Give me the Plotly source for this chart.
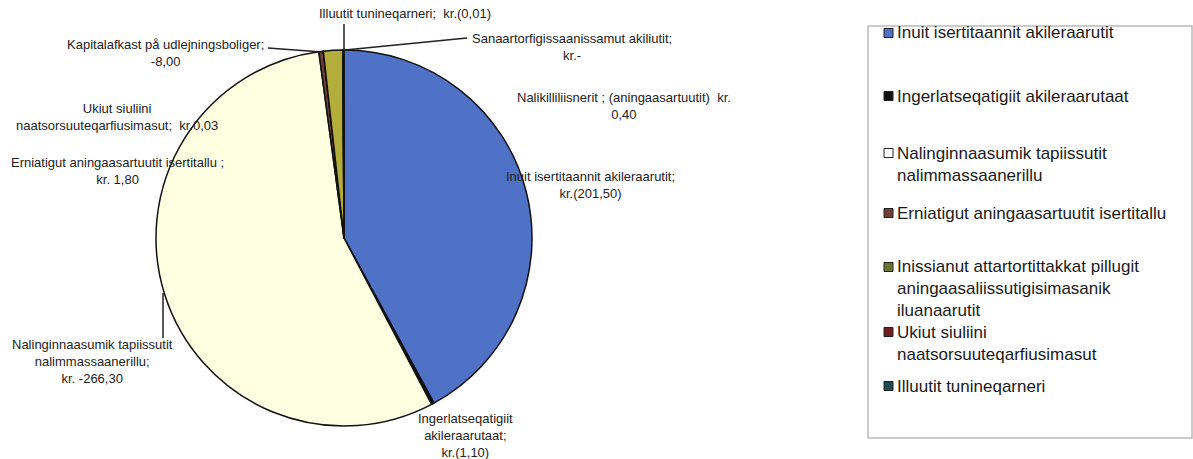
import plotly.graph_objects as go

# ---- data ----
slice_labels = [
    "Inuit isertitaannit akileraarutit",
    "Ingerlatseqatigiit akileraarutaat",
    "Nalinginnaasumik tapiissutit nalimmassaanerillu",
    "Erniatigut aningaasartuutit isertitallu",
    "Ukiut siuliini naatsorsuuteqarfiusimasut",
    "Kapitalafkast på udlejningsboliger",
    "Illuutit tunineqarneri",
    "Sanaartorfigissaanissamut akiliutit",
    "Nalikilliliisnerit (aningaasartuutit)",
]
slice_values = [201.50, 1.10, 266.30, 1.80, 0.03, 8.00, 0.01, 0.00, 0.40]
slice_colors = ["#4f72c6", "#111111", "#ffffe2", "#6e4038", "#6e2020",
                "#b3ad3c", "#1e4a50", "#999999", "#777777"]

data_label_texts = [
    "Illuutit tunineqarneri;  kr.(0,01)",
    "Sanaartorfigissaanissamut akiliutit;<br>kr.-",
    "Nalikilliliisnerit ; (aningaasartuutit)  kr.<br>0,40",
    "Inuit isertitaannit akileraarutit;<br>kr.(201,50)",
    "Ingerlatseqatigiit<br>akileraarutaat;<br>kr.(1,10)",
    "Nalinginnaasumik tapiissutit<br>nalimmassaanerillu;<br>kr. -266,30",
    "Erniatigut aningaasartuutit isertitallu ;<br>kr. 1,80",
    "Ukiut siuliini<br>naatsorsuuteqarfiusimasut;  kr.0,03",
    "Kapitalafkast på udlejningsboliger;<br>-8,00",
]

legend_texts = [
    "Inuit isertitaannit akileraarutit",
    "Ingerlatseqatigiit akileraarutaat",
    "Nalinginnaasumik tapiissutit<br>nalimmassaanerillu",
    "Erniatigut aningaasartuutit isertitallu",
    "Inissianut attartortittakkat pillugit<br>aningaasaliissutigisimasanik<br>iluanaarutit",
    "Ukiut siuliini<br>naatsorsuuteqarfiusimasut",
    "Illuutit tunineqarneri",
]
legend_colors = ["#4f72c6", "#111111", "#ffffff", "#6e4038", "#6b7530", "#6e2020", "#1e4a50"]

# ---- layout helpers ----
W, H = 1193, 459


def px(x):
    return x / W


def py(y):
    return 1 - y / H


cx, cy, r = 344, 238, 188

fig = go.Figure()
fig.add_trace(go.Pie(
    labels=slice_labels,
    values=slice_values,
    sort=False,
    direction="clockwise",
    rotation=0,
    textinfo="none",
    hoverinfo="label+value",
    showlegend=False,
    marker=dict(colors=slice_colors, line=dict(color="#111111", width=1.5)),
    domain=dict(x=[px(cx - r), px(cx + r)], y=[py(cy + r), py(cy - r)]),
))

label_pos = [(405, 14), (572, 47), (624, 106), (590, 185), (465, 435),
             (92, 361), (117, 171), (117, 117), (165, 53)]
annotations = []
for txt, (x, y) in zip(data_label_texts, label_pos):
    annotations.append(dict(
        x=px(x), y=py(y), xref="paper", yref="paper", text=txt,
        showarrow=False, xanchor="center", yanchor="middle", align="center",
        font=dict(family="Liberation Sans, Arial", size=13, color="#222222"),
    ))

shapes = []
# leader lines
for (x0, y0, x1, y1) in [(344, 24, 344, 56), (345, 50, 467, 38),
                         (268, 48, 322, 52), (163, 293, 163, 338)]:
    shapes.append(dict(type="line", xref="paper", yref="paper",
                       x0=px(x0), y0=py(y0), x1=px(x1), y1=py(y1),
                       line=dict(color="#222222", width=1.5)))

# custom legend box
shapes.append(dict(type="rect", xref="paper", yref="paper",
                   x0=px(868), y0=py(438), x1=px(1192), y1=py(26),
                   line=dict(color="#bbbbbb", width=1.5), fillcolor="rgba(0,0,0,0)"))

legend_y = [33, 96, 164, 213, 288, 343, 386]
legend_sq_y = [33, 96, 153, 213, 267, 332, 386]
for txt, col, ty, sy in zip(legend_texts, legend_colors, legend_y, legend_sq_y):
    shapes.append(dict(type="rect", xref="paper", yref="paper",
                       x0=px(884), y0=py(sy + 4.5), x1=px(893), y1=py(sy - 4.5),
                       fillcolor=col, line=dict(color="#222222", width=1)))
    annotations.append(dict(
        x=px(895), y=py(ty), xref="paper", yref="paper", text=txt,
        showarrow=False, xanchor="left", yanchor="middle", align="left",
        font=dict(family="Liberation Sans, Arial", size=17, color="#1a1a1a"),
    ))

fig.update_layout(
    width=W, height=H,
    margin=dict(l=0, r=0, t=0, b=0),
    paper_bgcolor="white", plot_bgcolor="white",
    annotations=annotations, shapes=shapes,
    showlegend=False,
)

fig.write_html("out.html", config={"displayModeBar": False},
               post_script="document.body.style.margin='0';")
